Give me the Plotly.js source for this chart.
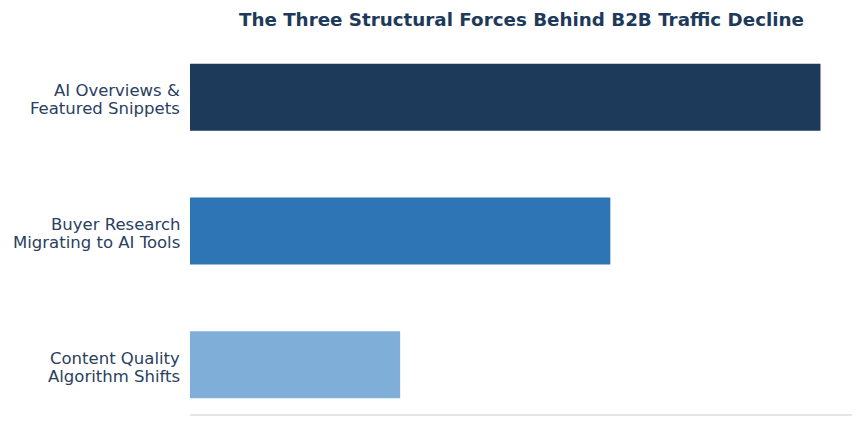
<!DOCTYPE html>
<html>
<head>
<meta charset="utf-8">
<script src="https://cdn.plot.ly/plotly-3.0.1.min.js"></script>
<style>html,body{margin:0;padding:0;background:#fff;}#chart{width:864px;height:426px;}</style>
</head>
<body>
<div id="chart"></div>
<script>
const categories = ["AI Overviews &\nFeatured Snippets", "Buyer Research\nMigrating to AI Tools", "Content Quality\nAlgorithm Shifts"];
const values = [3, 2, 1];
const barColors = ["#1e3a5a", "#2e75b6", "#7faed8"];
const chartTitle = "The Three Structural Forces Behind B2B Traffic Decline";

const positions = categories.map((c, i) => categories.length - 1 - i);

const labelAnnotations = [];
categories.forEach((c, i) => {
  const lines = c.split("\n");
  lines.forEach((ln, j) => {
    labelAnnotations.push({
      xref: "paper", yref: "y", x: 0, y: positions[i],
      xanchor: "right", yanchor: "middle", xshift: -8,
      yshift: ((lines.length - 1) / 2 - j) * 17.8 - 2.5,
      text: ln, showarrow: false,
      font: {family: "DejaVu Sans", size: 16.5, color: "#2a4060"}
    });
  });
});

Plotly.newPlot("chart", [{
  type: "bar",
  orientation: "h",
  x: values,
  y: positions,
  width: 0.5,
  marker: {color: barColors},
  hoverinfo: "skip"
}], {
  width: 864, height: 426,
  margin: {l: 190, r: 12, t: 47, b: 11},
  paper_bgcolor: "#fff", plot_bgcolor: "#fff",
  font: {family: "DejaVu Sans", color: "#2a4060"},
  title: {text: "<b>" + chartTitle + "</b>", font: {size: 18.3, color: "#1e3a5a", family: "DejaVu Sans"}, x: 0.6035, xanchor: "center", y: 0.955, yanchor: "middle"},
  xaxis: {range: [0, 3.15], showgrid: false, zeroline: false, showticklabels: false, ticks: "", showline: false, fixedrange: true},
  yaxis: {range: [-0.375, 2.375], tickmode: "array", tickvals: positions, showticklabels: false, showgrid: false, zeroline: false, showline: false, ticks: "", fixedrange: true},
  annotations: labelAnnotations,
  shapes: [{type: "line", xref: "paper", yref: "paper", x0: 0, x1: 1, y0: 0, y1: 0, line: {color: "#cccccc", width: 1}}],
  showlegend: false
}, {displayModeBar: false, staticPlot: true});
</script>
</body>
</html>
